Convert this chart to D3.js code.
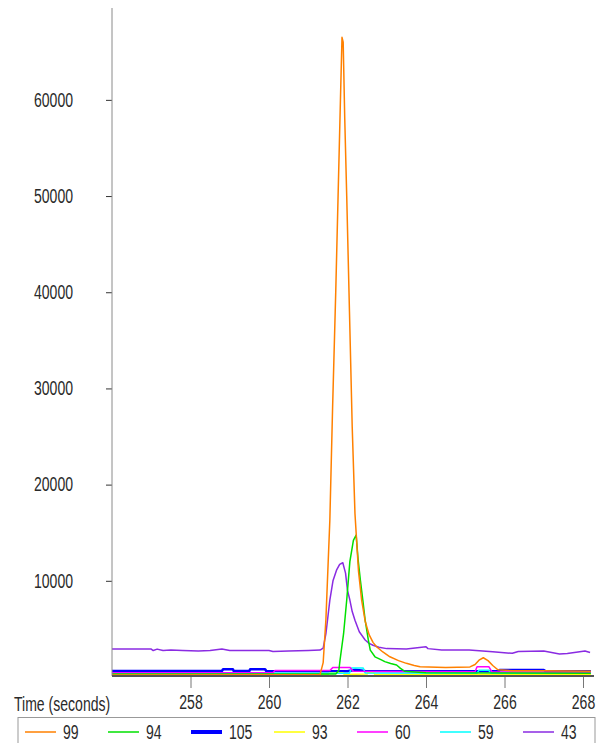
<!DOCTYPE html>
<html>
<head>
<meta charset="utf-8">
<script src="https://cdn.jsdelivr.net/npm/d3@7"></script>
<style>
body { margin: 0; background: #fff; }
text { font-family: "Liberation Sans", Arial, sans-serif; fill: #2a2a2a; }
</style>
</head>
<body>
<script>
// ion traces, [time (s), abundance]
var ion99 = [[256.0, 200], [261.3, 250], [261.38, 1500], [261.45, 6000], [261.55, 16300], [261.62, 28000],
  [261.7, 40000], [261.76, 50000], [261.82, 60000], [261.86, 66500], [261.89, 66000], [261.93, 58000],
  [261.98, 50000], [262.05, 38000], [262.12, 26000], [262.19, 17000], [262.28, 11000], [262.36, 8000],
  [262.45, 5800], [262.55, 4400], [262.65, 3600], [262.74, 3150], [262.9, 2600], [263.08, 2100],
  [263.3, 1700], [263.5, 1420], [263.7, 1200], [263.85, 1070], [264.5, 1000], [265.12, 1050],
  [265.25, 1300], [265.35, 1750], [265.46, 2000], [265.58, 1700], [265.7, 1200], [265.83, 750],
  [266.2, 650], [267.0, 650], [268.2, 600]];
var ion94 = [[256.0, 300], [261.7, 300], [261.78, 700], [261.81, 1770], [261.9, 4500], [261.98, 8000],
  [262.06, 12000], [262.15, 14200], [262.22, 14760], [262.27, 12200], [262.33, 10000], [262.39, 8000],
  [262.45, 5900], [262.53, 3850], [262.58, 2800], [262.7, 2100], [262.85, 1800], [262.95, 1600],
  [263.1, 1400], [263.25, 1250], [263.35, 900], [263.45, 600], [264.0, 450], [268.2, 400]];
var ion105 = [[256.0, 620], [258.8, 620], [258.83, 800], [259.08, 800], [259.1, 620], [259.5, 620],
  [259.52, 800], [259.9, 800], [259.93, 620], [262.0, 600], [262.2, 750], [262.45, 620], [265.85, 600],
  [265.88, 730], [267.0, 730], [267.05, 600], [268.2, 600]];
var ion93 = [[256.0, 250], [261.5, 250], [261.55, 450], [261.88, 450], [261.92, 250], [262.5, 300],
  [262.52, 450], [262.66, 450], [262.7, 250], [268.2, 250]];
var ion60 = [[256.0, 450], [260.1, 450], [260.15, 680], [261.55, 680], [261.63, 1000], [262.06, 1000],
  [262.15, 600], [265.25, 550], [265.3, 1070], [265.6, 1070], [265.68, 520], [268.2, 500]];
var ion59 = [[256.0, 400], [262.05, 400], [262.1, 940], [262.4, 940], [262.45, 420], [265.3, 400],
  [265.35, 700], [265.6, 700], [265.65, 400], [268.2, 380]];
var ion43 = [[256.0, 2900], [256.5, 2900], [257.0, 2900], [257.05, 2750], [257.15, 2900], [257.3, 2750],
  [257.5, 2800], [257.8, 2750], [258.2, 2700], [258.5, 2750], [258.8, 2900], [259.0, 2750],
  [259.5, 2750], [260.0, 2750], [260.1, 2650], [260.5, 2700], [261.0, 2750], [261.3, 2800],
  [261.38, 3000], [261.45, 4500], [261.55, 8000], [261.63, 10000], [261.72, 11100], [261.8, 11700],
  [261.88, 11880], [261.95, 10800], [262.0, 9000], [262.06, 8000], [262.12, 6800], [262.19, 5900],
  [262.3, 4700], [262.45, 3850], [262.55, 3500], [262.65, 3300], [262.8, 3100], [263.0, 2950],
  [263.5, 2900], [264.0, 3150], [264.05, 2950], [264.4, 2800], [265.1, 2800], [265.7, 2630],
  [266.2, 2460], [266.35, 2650], [267.0, 2700], [267.4, 2400], [267.6, 2450], [268.05, 2700],
  [268.18, 2550]];

var ionNames = ["99", "94", "105", "93", "60", "59", "43"];
var ionData = [ion99, ion94, ion105, ion93, ion60, ion59, ion43];
var ionColors = ["#ff8000", "#00e000", "#0000ff", "#ffff00", "#ff00ff", "#00ffff", "#8a2be2"];
var ionWidths = [1.5, 1.5, 2.6, 1.5, 1.5, 1.5, 1.5];
var legendWidths = [1.5, 1.5, 4, 1.5, 1.5, 1.5, 1.5];
var drawOrder = [6, 2, 3, 5, 4, 1, 0];

var xTicks = [258, 260, 262, 264, 266, 268];
var yTicks = [10000, 20000, 30000, 40000, 50000, 60000];

var svg_w = 603;
var svg_h = 743;
var fontSize = "19.5px";

var svg = d3.select("body").append("svg")
.attr("width", svg_w)
.attr("height", svg_h);

// the original labels use a tall narrow face, squeeze the glyphs
function squeeze(sel) {
  sel.each(function() {
    var w = this.getComputedTextLength();
    d3.select(this)
    .attr("textLength", w * 0.72)
    .attr("lengthAdjust", "spacingAndGlyphs");
  });
}

var x = d3.scaleLinear()
.domain([256, 268.28])
.range([112, 594]);

var y = d3.scaleLinear()
.domain([0, 69550])
.range([677, 8]);

var line = d3.line()
.x(function(d) { return x(d[0]); })
.y(function(d) { return y(d[1]); });

// traces
drawOrder.forEach(function(i) {
  svg.append("path")
  .datum(ionData[i])
  .attr("d", line)
  .attr("fill", "none")
  .attr("stroke", ionColors[i])
  .attr("stroke-width", ionWidths[i])
  .attr("stroke-linejoin", "round");
});

// y axis
var yAxis = svg.append("g")
.attr("transform", "translate(112,0)")
.call(d3.axisLeft(y).tickValues(yTicks).tickSize(6).tickPadding(33).tickFormat(d3.format("d")));
yAxis.select(".domain").remove();
yAxis.selectAll(".tick line").attr("stroke", "#333");
yAxis.selectAll(".tick text").attr("font-size", fontSize).attr("fill", "#2a2a2a").call(squeeze);

svg.append("line")
.attr("x1", 112)
.attr("x2", 112)
.attr("y1", 8)
.attr("y2", 676)
.attr("stroke", "#8a8a8a");

// x axis
var xAxis = svg.append("g")
.attr("transform", "translate(0,677)")
.call(d3.axisBottom(x).tickValues(xTicks).tickSize(11).tickPadding(7).tickFormat(d3.format("d")));
xAxis.select(".domain").remove();
xAxis.selectAll(".tick line").attr("stroke", "#777");
xAxis.selectAll(".tick text").attr("font-size", fontSize).attr("fill", "#2a2a2a").call(squeeze);

svg.append("line")
.attr("x1", 112)
.attr("x2", 594)
.attr("y1", 676)
.attr("y2", 676)
.attr("stroke", "#555")
.attr("stroke-width", 2);

svg.append("text")
.attr("x", 14)
.attr("y", 711)
.attr("font-size", fontSize)
.text("Time (seconds)")
.call(squeeze);

// legend
svg.append("rect")
.attr("x", 18)
.attr("y", 717.5)
.attr("width", 577)
.attr("height", 30)
.attr("fill", "none")
.attr("stroke", "#999");

var legendX = d3.scaleLinear()
.domain([0, 1])
.range([25, 108]);

var item = svg.selectAll(".legend-item")
.data(ionNames)
.enter().append("g")
.attr("class", "legend-item")
.attr("transform", function(d, i) { return "translate(" + legendX(i) + ",732)"; });

item.append("line")
.attr("x1", 0)
.attr("x2", 31)
.attr("stroke", function(d, i) { return ionColors[i]; })
.attr("stroke-width", function(d, i) { return legendWidths[i]; });

item.append("text")
.attr("x", 38)
.attr("y", 7)
.attr("font-size", fontSize)
.text(function(d) { return d; })
.call(squeeze);
</script>
</body>
</html>
